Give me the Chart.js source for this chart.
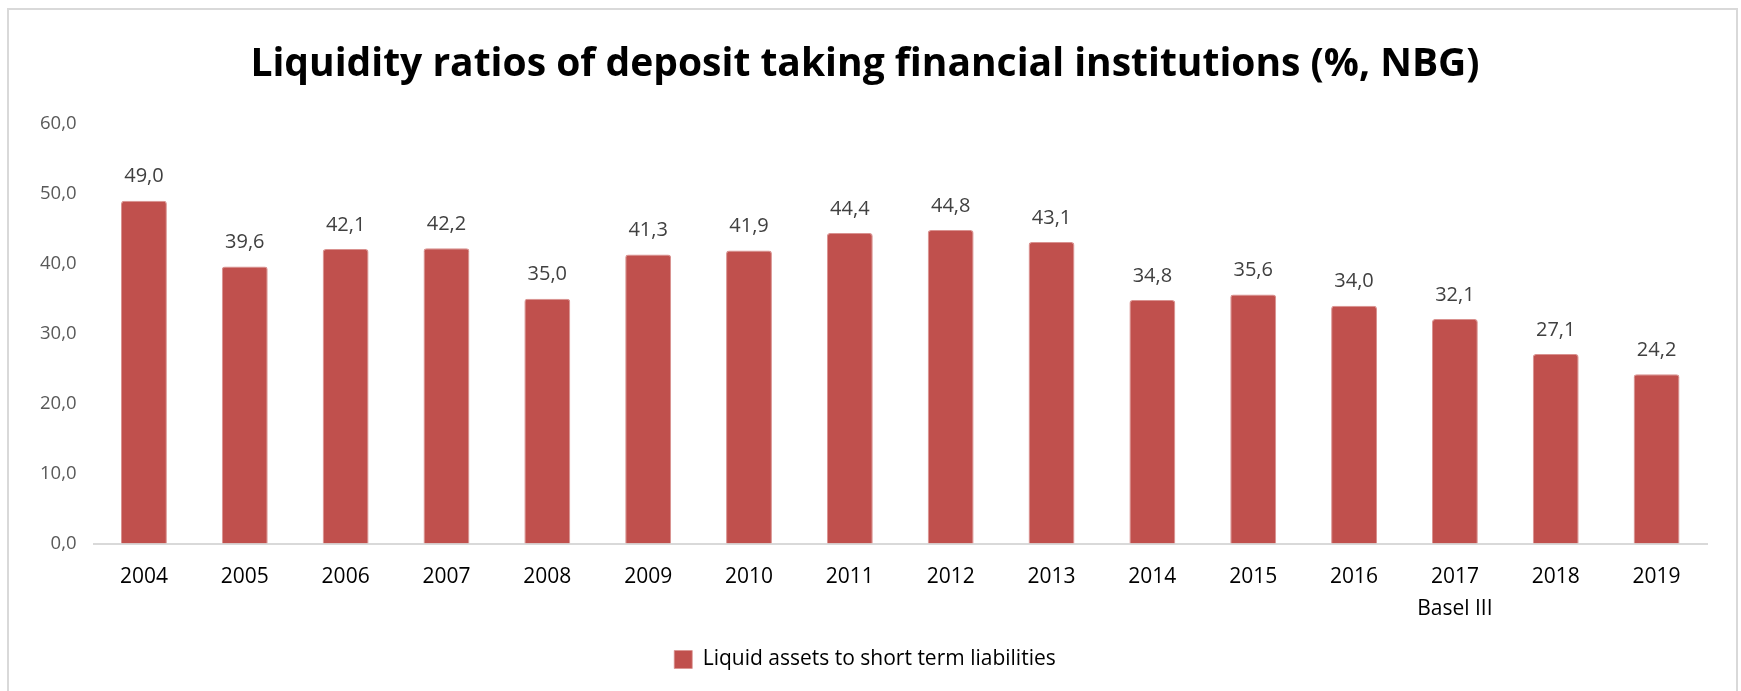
<!DOCTYPE html>
<html>
<head>
<meta charset="utf-8">
<script src="https://cdn.jsdelivr.net/npm/chart.js@4.4.1/dist/chart.umd.min.js"></script>
<style>
  html, body { margin: 0; padding: 0; background: #fff; }
  #frame {
    position: absolute; left: 7px; top: 8px;
    width: 1731px; height: 720px;
    border: 2px solid #D9D9D9; box-sizing: border-box;
  }
  #wrap { position: absolute; left: 0; top: 0; width: 1741px; height: 691px; }
</style>
</head>
<body>
<div id="frame"></div>
<div id="wrap"><canvas id="myChart"></canvas></div>
<script>
var years = ['2004', '2005', '2006', '2007', '2008', '2009', '2010', '2011',
             '2012', '2013', '2014', '2015', '2016', '2017', '2018', '2019'];
var notes = ['', '', '', '', '', '', '', '', '', '', '', '', '', 'Basel III', '', ''];
var liquidRatio = [49.0, 39.6, 42.1, 42.2, 35.0, 41.3, 41.9, 44.4,
                   44.8, 43.1, 34.8, 35.6, 34.0, 32.1, 27.1, 24.2];
var seriesName = 'Liquid assets to short term liabilities';
var chartTitle = 'Liquidity ratios of deposit taking financial institutions (%, NBG)';

var FONT = "'Open Sans', 'Noto Sans', sans-serif";

function coma(v) {
    return v.toFixed(1).replace('.', ',');
}

// labels
var labels = [];
years.forEach(function (y, i) {
    labels.push(notes[i] ? [y, notes[i]] : y);
});

// value labels above each bar
var valoresPlugin = {
    id: 'valores',
    afterDatasetsDraw: function (chart) {
        var ctx = chart.ctx;
        var meta = chart.getDatasetMeta(0);
        ctx.save();
        ctx.font = '20px ' + FONT;
        ctx.fillStyle = '#404040';
        ctx.textAlign = 'center';
        ctx.textBaseline = 'middle';
        meta.data.forEach(function (bar, i) {
            ctx.fillText(coma(liquidRatio[i]), bar.x, bar.y - 24);
        });
        ctx.restore();
    }
};

var ctx = document.getElementById('myChart');
const myChart = new Chart(ctx, {
    type: 'bar',
    data: {
        labels: labels,
        datasets: [{
            label: seriesName,
            data: liquidRatio,
            backgroundColor: '#C0504D',
            borderColor: '#D9918F',
            borderWidth: { top: 1, left: 1, right: 1, bottom: 0 },
            borderRadius: { topLeft: 3, topRight: 3 },
            borderSkipped: 'bottom',
            barPercentage: 0.455,
            categoryPercentage: 1.0
        }]
    },
    options: {
        responsive: true,
        maintainAspectRatio: false,
        animation: false,
        layout: { padding: { left: 23, right: 34, top: 0, bottom: 11 } },
        plugins: {
            title: {
                display: true,
                text: chartTitle,
                color: '#000',
                font: { family: FONT, size: 39, weight: 'bold' },
                padding: { top: 41, bottom: 36 }
            },
            legend: {
                position: 'bottom',
                labels: {
                    color: '#000',
                    font: { family: FONT, size: 21 },
                    boxWidth: 18,
                    boxHeight: 18,
                    padding: 6.5
                }
            },
            tooltip: { enabled: false }
        },
        scales: {
            x: {
                grid: { display: false, drawTicks: false },
                border: { color: '#D9D9D9', width: 2 },
                ticks: {
                    color: '#000',
                    font: { family: FONT, size: 21, lineHeight: 1.5 },
                    padding: 18,
                    maxRotation: 0,
                    autoSkip: false
                }
            },
            y: {
                min: 0,
                max: 60,
                grid: { display: false, drawTicks: false },
                border: { display: false },
                ticks: {
                    stepSize: 10,
                    color: '#595959',
                    font: { family: FONT, size: 18.5 },
                    padding: 17,
                    callback: function (v) { return coma(v); }
                }
            }
        }
    },
    plugins: [valoresPlugin]
});
</script>
</body>
</html>
